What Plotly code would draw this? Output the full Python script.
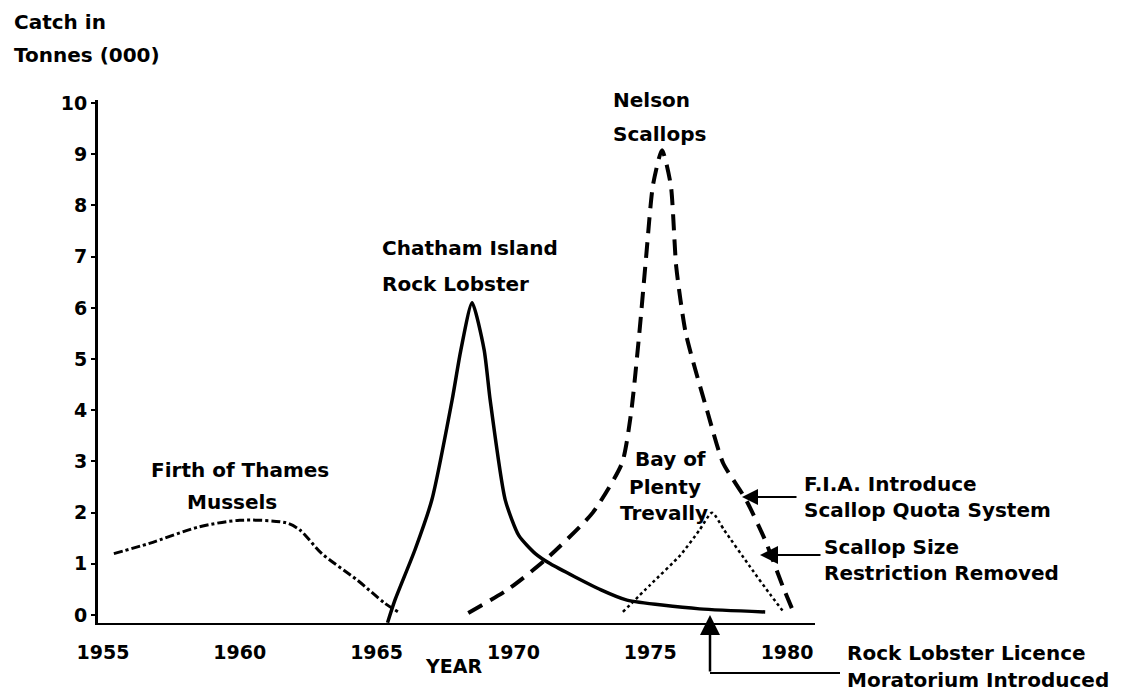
import plotly.graph_objects as go

# ---------------- data ----------------
mussel_years = [1955.4, 1956.7, 1958.5, 1960.0, 1961.7, 1962.2, 1963.0, 1964.3, 1965.3, 1965.85]
mussel_catch = [1.2, 1.4, 1.72, 1.85, 1.8, 1.66, 1.2, 0.68, 0.23, 0.04]

lobster_years = [1965.4, 1965.67, 1966.4, 1967.02, 1967.76, 1968.08, 1968.49, 1968.93, 1969.15,
                 1969.7, 1970.2, 1970.8, 1971.35, 1973.2, 1974.15, 1976.8, 1979.2]
lobster_catch = [-0.15, 0.29, 1.27, 2.25, 4.2, 5.18, 6.1, 5.18, 4.2,
                 2.25, 1.55, 1.2, 1.0, 0.49, 0.29, 0.12, 0.06]

scallop_years = [1968.35, 1969.8, 1971.15, 1972.9, 1973.97, 1974.3, 1974.6, 1974.85, 1975.1, 1975.43,
                 1975.75, 1975.95, 1976.3, 1977.1, 1977.66, 1978.5, 1979.2, 1979.85, 1980.2]
scallop_catch = [0.04, 0.5, 1.07, 2.0, 2.97, 3.95, 5.5, 7.0, 8.4, 9.08,
                 8.4, 6.8, 5.5, 3.95, 2.97, 2.25, 1.46, 0.55, 0.1]

trevally_years = [1974.0, 1975.0, 1976.1, 1976.8, 1977.26, 1977.7, 1978.65, 1979.4, 1979.9]
trevally_catch = [0.06, 0.59, 1.17, 1.66, 2.0, 1.66, 0.94, 0.39, 0.04]

x_ticks = [1955, 1960, 1965, 1970, 1975, 1980]
y_ticks = list(range(0, 11))

# ---------------- layout geometry (pixels) ----------------
W, H = 1137, 694
L, R, T, B = 98, 815, 100, 623   # plot area edges


def px(x):
    return (x - L) / (R - L)


def py(y):
    return (B - y) / (B - T)


FONT = "DejaVu Sans"
FS = 20

fig = go.Figure()

fig.add_trace(go.Scatter(x=mussel_years, y=mussel_catch, mode="lines",
                         line=dict(color="black", width=3, dash="dashdot", shape="spline", smoothing=0.8),
                         name="Firth of Thames Mussels", showlegend=False))
fig.add_trace(go.Scatter(x=lobster_years, y=lobster_catch, mode="lines",
                         line=dict(color="black", width=3.5, shape="spline", smoothing=0.6),
                         name="Chatham Island Rock Lobster", showlegend=False))
fig.add_trace(go.Scatter(x=scallop_years, y=scallop_catch, mode="lines",
                         line=dict(color="black", width=4, dash="16px,9px", shape="spline", smoothing=0.6),
                         name="Nelson Scallops", showlegend=False))
fig.add_trace(go.Scatter(x=trevally_years, y=trevally_catch, mode="lines",
                         line=dict(color="black", width=2.5, dash="dot", shape="spline", smoothing=0.6),
                         name="Bay of Plenty Trevally", showlegend=False))

annotations = []


def label(text, x, y, anchor="left", size=FS):
    annotations.append(dict(text=text, x=px(x), y=py(y), xref="paper", yref="paper",
                            xanchor=anchor, yanchor="middle", showarrow=False,
                            font=dict(family=FONT, size=size, color="black", weight="bold")))


# axis title block
label("Catch in", 12, 22, size=20)
label("Tonnes (000)", 12, 55, size=20)
# series labels
label("Nelson", 611, 100)
label("Scallops", 611, 134)
label("Chatham Island", 380, 248)
label("Rock Lobster", 380, 284)
label("Firth of Thames", 240, 470, "center")
label("Mussels", 232, 502, "center")
label("Bay of", 670, 459, "center")
label("Plenty", 665, 487, "center")
label("Trevally", 664, 513, "center")
# event labels
label("F.I.A. Introduce", 802, 484)
label("Scallop Quota System", 802, 510)
label("Scallop Size", 822, 547)
label("Restriction Removed", 822, 573)
label("Rock Lobster Licence", 845, 653)
label("Moratorium Introduced", 845, 680)
label("YEAR", 453, 666, "center", size=19)

# arrows
annotations.append(dict(x=px(742), y=py(497), xref="paper", yref="paper", ax=56, ay=0,
                        showarrow=True, arrowhead=2, arrowsize=1.6, arrowwidth=2, arrowcolor="black", text=""))
annotations.append(dict(x=px(760), y=py(555), xref="paper", yref="paper", ax=62, ay=0,
                        showarrow=True, arrowhead=2, arrowsize=1.8, arrowwidth=2, arrowcolor="black", text=""))
annotations.append(dict(x=px(710), y=py(615), xref="paper", yref="paper", ax=0, ay=58,
                        showarrow=True, arrowhead=2, arrowsize=1.6, arrowwidth=2.5, arrowcolor="black", text=""))

shapes = [dict(type="line", xref="paper", yref="paper", x0=px(710), y0=py(673), x1=px(840), y1=py(673),
               line=dict(color="black", width=2))]

tickfont = dict(family=FONT, size=19, color="black", weight="bold")

fig.update_layout(
    width=W, height=H,
    margin=dict(l=L, r=W - R, t=T, b=H - B, pad=0),
    plot_bgcolor="white", paper_bgcolor="white",
    font=dict(family=FONT, size=FS, color="black"),
    annotations=annotations, shapes=shapes,
    xaxis=dict(range=[1954.82, 1981.02], tickvals=x_ticks, ticktext=[str(v) for v in x_ticks],
               showgrid=False, zeroline=False, showline=True, linecolor="black", linewidth=2,
               ticks="", ticklabelstandoff=11, tickfont=tickfont),
    yaxis=dict(range=[-0.156, 10.06], tickvals=y_ticks, ticktext=[str(v) for v in y_ticks],
               showgrid=False, zeroline=False, showline=True, linecolor="black", linewidth=3,
               ticks="outside", ticklen=4, tickwidth=2, tickcolor="black",
               tickfont=tickfont),
)

fig.write_html("out.html", config={"displayModeBar": False},
               post_script="document.body.style.margin='0px';document.body.style.overflow='hidden';")
